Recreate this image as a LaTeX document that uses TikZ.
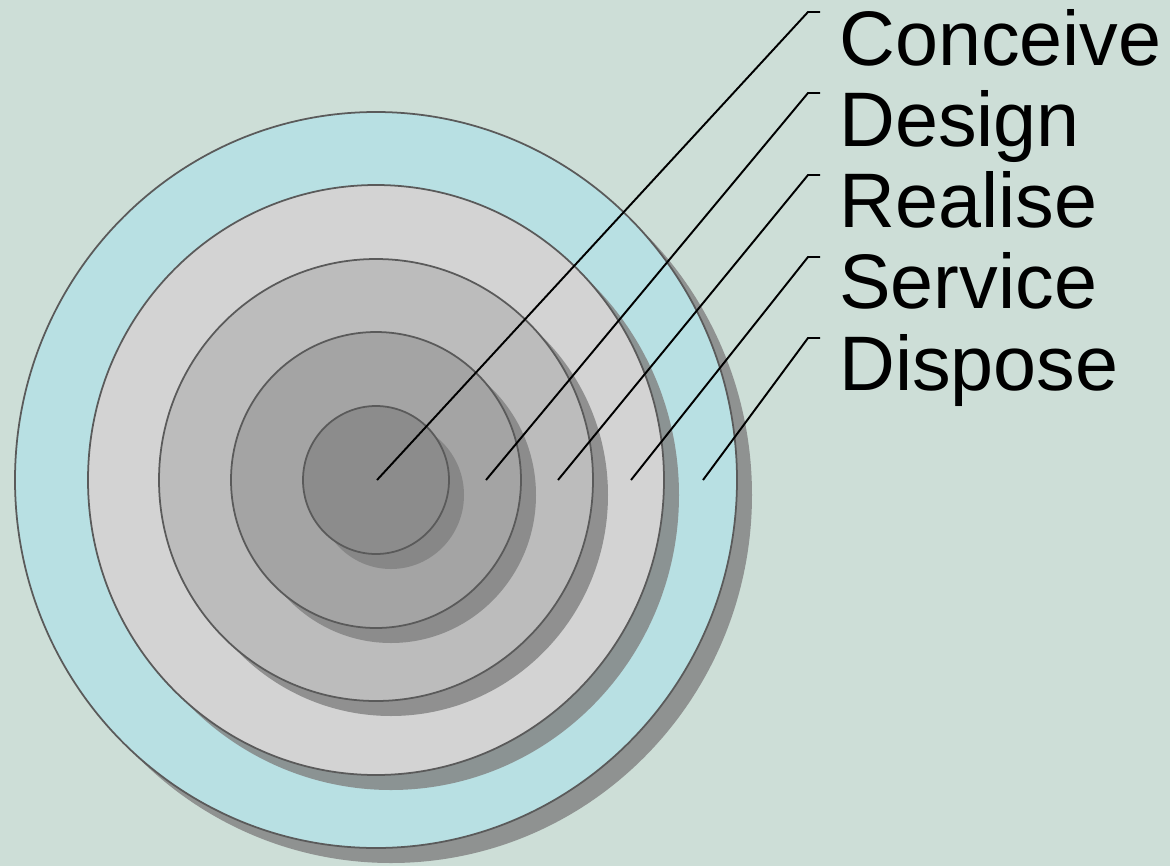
\documentclass[tikz,border=0pt]{standalone}
\usepackage{fontspec}
\setmainfont{Liberation Sans}
\usetikzlibrary{shadows}

\definecolor{bgsage}{RGB}{205,222,215}
\definecolor{ringblue}{RGB}{184,224,227}
\definecolor{ringline}{RGB}{90,90,90}

\tikzset{
    ring/.style={draw=ringline, line width=1pt,
        drop shadow={shadow xshift=0.3cm, shadow yshift=-0.3cm, fill=gray, opacity=0.8}},
    phase/.style={anchor=base west, inner sep=0pt, font=\fontsize{44}{53}\selectfont},
    lead/.style={black, line width=1.1pt}
}

\begin{document}
\begin{tikzpicture}[x=0.02cm,y=-0.02cm]

            \useasboundingbox[fill=bgsage] (0,0) rectangle (1170,866);

            %\draw [help lines] (0,0) grid (1170,866);

            \path[ring,fill=ringblue] (376,480) ellipse [x radius=361, y radius=368];
            \path[ring,fill={rgb,255:red,211;green,211;blue,211}] (376,480) ellipse [x radius=288, y radius=295];
            \path[ring,fill={rgb,255:red,188;green,188;blue,188}] (376,480) ellipse [x radius=217, y radius=221];
            \path[ring,fill={rgb,255:red,164;green,164;blue,164}] (376,480) ellipse [x radius=145, y radius=148];
            \path[ring,fill={rgb,255:red,140;green,140;blue,140}] (376,480) ellipse [x radius=73, y radius=74];

            \path   (839,65)  node (conceive) [phase] {Conceive}
                    (839,146) node (design)   [phase] {Design}
                    (839,227) node (realise)  [phase] {Realise}
                    (839,308) node (service)  [phase] {Service}
                    (839,390) node (dispose)  [phase] {Dispose};

            \coordinate (p1) at (377,480);
            \coordinate (p2) at (486,480);
            \coordinate (p3) at (558,480);
            \coordinate (p4) at (631,480);
            \coordinate (p5) at (703,480);

            \coordinate (k1) at (808,12);
            \coordinate (k2) at (808,93);
            \coordinate (k3) at (808,175);
            \coordinate (k4) at (808,257);
            \coordinate (k5) at (808,338);

            \draw[lead] (node cs: name=p1) -- (node cs: name=k1) -- ++(12,0);
            \draw[lead] (node cs: name=p2) -- (node cs: name=k2) -- ++(12,0);
            \draw[lead] (node cs: name=p3) -- (node cs: name=k3) -- ++(12,0);
            \draw[lead] (node cs: name=p4) -- (node cs: name=k4) -- ++(12,0);
            \draw[lead] (node cs: name=p5) -- (node cs: name=k5) -- ++(12,0);

        \end{tikzpicture}
\end{document}
